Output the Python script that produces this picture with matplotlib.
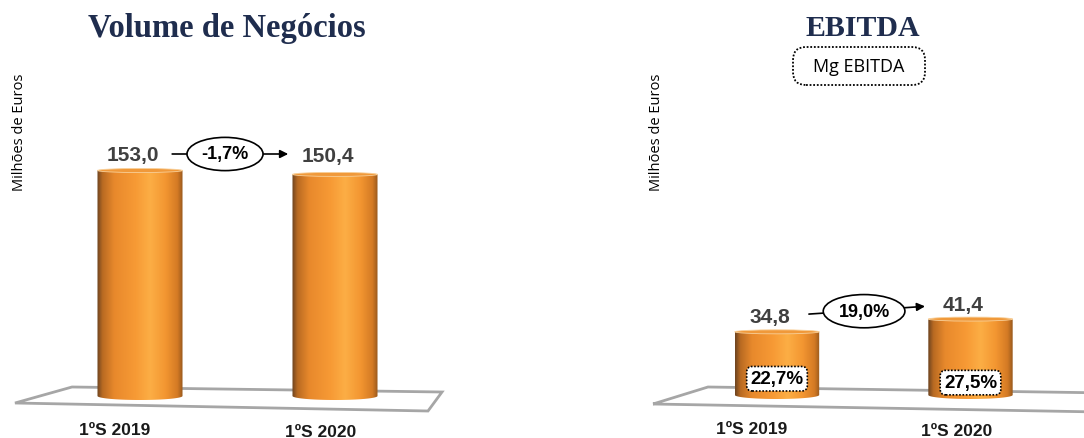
import numpy as np
import matplotlib.pyplot as plt
from matplotlib.colors import LinearSegmentedColormap
from matplotlib.patches import Polygon, PathPatch, Ellipse, FancyBboxPatch
from matplotlib.path import Path

plt.rcParams['font.family'] = ['Liberation Sans', 'DejaVu Sans']

# ---- data ----
categories = ['1ºS 2019', '1ºS 2020']
volume = [153.0, 150.4]
volume_labels = ['153,0', '150,4']
volume_change = '-1,7%'
ebitda = [34.8, 41.4]
ebitda_labels = ['34,8', '41,4']
ebitda_change = '19,0%'
ebitda_margin = ['22,7%', '27,5%']

W, H = 1084, 439
fig = plt.figure(figsize=(W / 100, H / 100), dpi=100)

cyl = LinearSegmentedColormap.from_list('cyl', [
    (0.0, '#6e4420'), (0.06, '#b86a22'), (0.2, '#e8892c'),
    (0.45, '#f79a35'), (0.62, '#fcae45'), (0.8, '#f39631'),
    (0.94, '#d47a24'), (1.0, '#9a5a1e')])
grad = np.linspace(0, 1, 200).reshape(1, -1)


def px_axes(left, top, right, bottom):
    # axes placed by pixel box (image coords, y from top)
    return fig.add_axes([left / W, 1 - bottom / H, (right - left) / W, (bottom - top) / H])


def cylinder(ax, x, v, w, e):
    # body: rectangle with rounded bottom
    t = np.linspace(np.pi, 2 * np.pi, 40)
    bx = x + w / 2 * np.cos(t)
    by = e * np.sin(t) + e
    verts = list(zip(bx, by)) + [(x + w / 2, v), (x - w / 2, v), (bx[0], by[0])]
    clip = PathPatch(Path(verts, closed=True), fc='none', ec='none', transform=ax.transData)
    ax.add_patch(clip)
    im = ax.imshow(grad, cmap=cyl, extent=(x - w / 2, x + w / 2, 0, v),
                   aspect='auto', zorder=2, interpolation='bicubic')
    im.set_clip_path(clip)
    top = Ellipse((x, v), w, 2 * e * 0.5, fc='#f0993a', ec='#f8cf98', lw=0.6, zorder=3)
    ax.add_patch(top)


def floor(pts):
    poly = Polygon([(px / W, 1 - py / H) for px, py in pts], closed=True,
                   fill=False, ec='#a6a6a6', lw=2, transform=fig.transFigure, zorder=0)
    fig.add_artist(poly)


def panel(ax, values, labels, change, change_pos, line_start, line_end, scale, ymax, dy):
    ax.set_xlim(-0.5, 1.5)
    ax.set_ylim(0, ymax)
    ax.axis('off')
    w = 0.436
    e = 4 / scale
    for i, v in enumerate(values):
        cylinder(ax, i, v, w, e)
        ax.annotate(labels[i], (i, v), xytext=(-5, dy[i]), textcoords='offset points',
                    ha='center', va='bottom', fontsize=15, fontweight='bold', color='#404040')
    ax.annotate('', xy=line_end, xytext=line_start,
                arrowprops=dict(arrowstyle='-|>', color='black', lw=1.2,
                                mutation_scale=12, shrinkA=0, shrinkB=0), zorder=4)
    ax.text(change_pos[0], change_pos[1], change, ha='center', va='center', fontsize=13,
            fontweight='bold', color='black', zorder=5,
            bbox=dict(boxstyle='ellipse,pad=0.18', fc='white', ec='black', lw=1.2))
    # category labels under the floor
    for i, c in enumerate(categories):
        ax.annotate(c, (i, 0), xytext=(-18 + 8 * i, -21 - 2 * i), textcoords='offset points',
                    ha='center', va='center', fontsize=12.5, fontweight='bold', color='#1a1a1a',
                    annotation_clip=False)


# left panel: Volume de Negócios
s1 = 1.50
ax1 = px_axes(42.5, 401 - 227 * s1, 432.5, 401)
floor([(15, 404), (72, 388), (442, 393), (428, 412)])
panel(ax1, volume, volume_labels, volume_change, (0.436, 164),
      (0.165, 164), (0.76, 164), s1, 227, (5, 6.5))

# right panel: EBITDA
s2 = 1.93
ax2 = px_axes(680.25, 400 - 176 * s2, 1067.25, 400)
floor([(653, 405), (708, 388), (1110, 394), (1100, 413)])
panel(ax2, ebitda, ebitda_labels, ebitda_change, (0.45, 45.5),
      (0.165, 44), (0.765, 48), s2, 176, (4, 4))
for i, m in enumerate(ebitda_margin):
    ax2.text(i, 10.5 - 2 * i, m, ha='center', va='center', fontsize=13.5,
             fontweight='bold', color='black', zorder=6,
             bbox=dict(boxstyle='round,pad=0.2,rounding_size=0.3', fc='white',
                       ec='black', lw=1.2, ls=(0, (1, 1))))

# titles and axis notes
fig.text(227 / W, 1 - 29 / H, 'Volume de Negócios', ha='center', va='center',
         fontsize=23.5, fontweight='bold', color='#1f2d4e', family=['Liberation Serif'])
fig.text(863 / W, 1 - 29 / H, 'EBITDA', ha='center', va='center',
         fontsize=21.5, fontweight='bold', color='#1f2d4e', family=['Liberation Serif'])
box = FancyBboxPatch((793 / W, 1 - 86 / H), 132 / W, 38 / H,
                     boxstyle='round,pad=0,rounding_size=0.012', fc='white', ec='black',
                     lw=1.3, ls=(0, (1, 1)), transform=fig.transFigure,
                     mutation_aspect=W / H)
fig.add_artist(box)
fig.text(859 / W, 1 - 67 / H, 'Mg EBITDA', ha='center', va='center', fontsize=13,
         color='black', family=['Open Sans'])
for x in (20, 657):
    fig.text(x / W, 1 - 132 / H, 'Milhões de Euros', rotation=90, ha='center', va='center',
             fontsize=10.5, color='black', family=['Open Sans'])

fig.savefig('out.png', dpi=100)
